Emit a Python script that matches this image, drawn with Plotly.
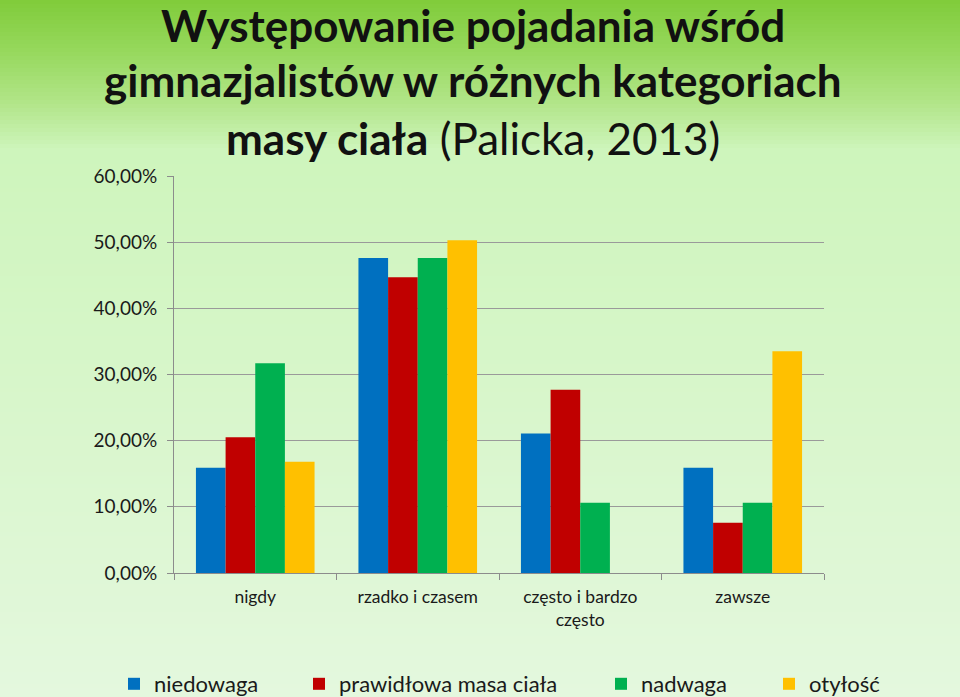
import plotly.graph_objects as go

categories = ["nigdy", "rzadko i czasem", "często i bardzo<br>często", "zawsze"]
series_names = ["niedowaga", "prawidłowa masa ciała", "nadwaga", "otyłość"]
niedowaga = [0.159, 0.476, 0.211, 0.159]
prawidlowa = [0.205, 0.447, 0.277, 0.076]
nadwaga = [0.317, 0.476, 0.106, 0.106]
otylosc = [0.168, 0.503, 0.0, 0.335]
colors = ["#0070C0", "#C00000", "#00B050", "#FFC000"]
y_ticks = [0, 0.1, 0.2, 0.3, 0.4, 0.5, 0.6]

W, H = 960, 697
L, R, T, B = 174, 136, 176, 124
PW, PH = W - L - R, H - T - B

def px2x(px):
    return (px - L) / PW

def py2y(py):
    return (H - B - py) / PH

fig = go.Figure()
values = [niedowaga, prawidlowa, nadwaga, otylosc]
legend_ids = ["legend", "legend2", "legend3", "legend4"]
for name, vals, col, lg in zip(series_names, values, colors, legend_ids):
    fig.add_trace(go.Bar(x=categories, y=vals, name=name, marker_color=col,
                         marker_line_width=0, legend=lg, showlegend=True))

# background gradient
stops = [(0, (128, 204, 58)), (50, (150, 216, 92)), (100, (176, 228, 134)),
         (150, (206, 245, 188)), (400, (216, 246, 203)), (697, (228, 248, 222))]

def col_at(py):
    for (a, ca), (b, cb) in zip(stops[:-1], stops[1:]):
        if a <= py <= b:
            t = (py - a) / (b - a)
            return tuple(round(ca[i] + (cb[i] - ca[i]) * t) for i in range(3))
    return stops[-1][1]

shapes = []
step = 4
for py in range(0, H, step):
    c = col_at(py + step / 2)
    shapes.append(dict(type="rect", xref="paper", yref="paper", layer="below",
                       x0=px2x(-2), x1=px2x(W + 2), y0=py2y(py + step + 0.5), y1=py2y(py),
                       fillcolor="rgb(%d,%d,%d)" % c, line_width=0))

title_font = "Lato, 'Open Sans', sans-serif"
annotations = [
    dict(text="<b>Występowanie pojadania wśród</b>", x=px2x(473), y=py2y(25)),
    dict(text="<b>gimnazjalistów w różnych kategoriach</b>", x=px2x(473), y=py2y(80)),
    dict(text="<b>masy ciała</b> (Palicka, 2013)", x=px2x(473), y=py2y(138)),
]
for a in annotations:
    a.update(xref="paper", yref="paper", xanchor="center", yanchor="middle",
             showarrow=False, font=dict(family=title_font, size=44, color="#111111"))

fig.update_layout(
    width=W, height=H,
    margin=dict(l=L, r=R, t=T, b=B, autoexpand=False),
    paper_bgcolor="rgb(220,246,210)",
    plot_bgcolor="rgba(0,0,0,0)",
    separators=", ",
    barmode="group", bargap=0.27, bargroupgap=0,
    showlegend=True,
    font=dict(family=title_font, color="#1a1a1a"),
    shapes=shapes,
    annotations=annotations,
    xaxis=dict(showgrid=False, showline=True, linecolor="#8c8c8c", linewidth=1,
               ticks="outside", tickson="boundaries", ticklen=6, tickcolor="#8c8c8c",
               ticklabelstandoff=8,
               tickfont=dict(size=17.5, color="#1a1a1a"), automargin=False),
    yaxis=dict(range=[0, 0.6], tickvals=y_ticks, tickformat=".2%",
               showgrid=True, gridcolor="#9a9a9a", gridwidth=1,
               showline=True, linecolor="#8c8c8c", linewidth=1,
               ticks="outside", ticklen=6, tickcolor="#8c8c8c",
               ticklabelstandoff=6,
               tickfont=dict(size=19, color="#1a1a1a"), zeroline=False, automargin=False),
)

leg_x = [134, 319, 621, 789]
for lg, lx in zip(legend_ids, leg_x):
    fig.update_layout({lg: dict(x=px2x(lx - 20), y=py2y(684), xanchor="left", yanchor="middle",
                                orientation="h", bgcolor="rgba(0,0,0,0)", visible=True,
                                font=dict(size=22, color="#1a1a1a", family=title_font))})

fig.write_html("out.html")
